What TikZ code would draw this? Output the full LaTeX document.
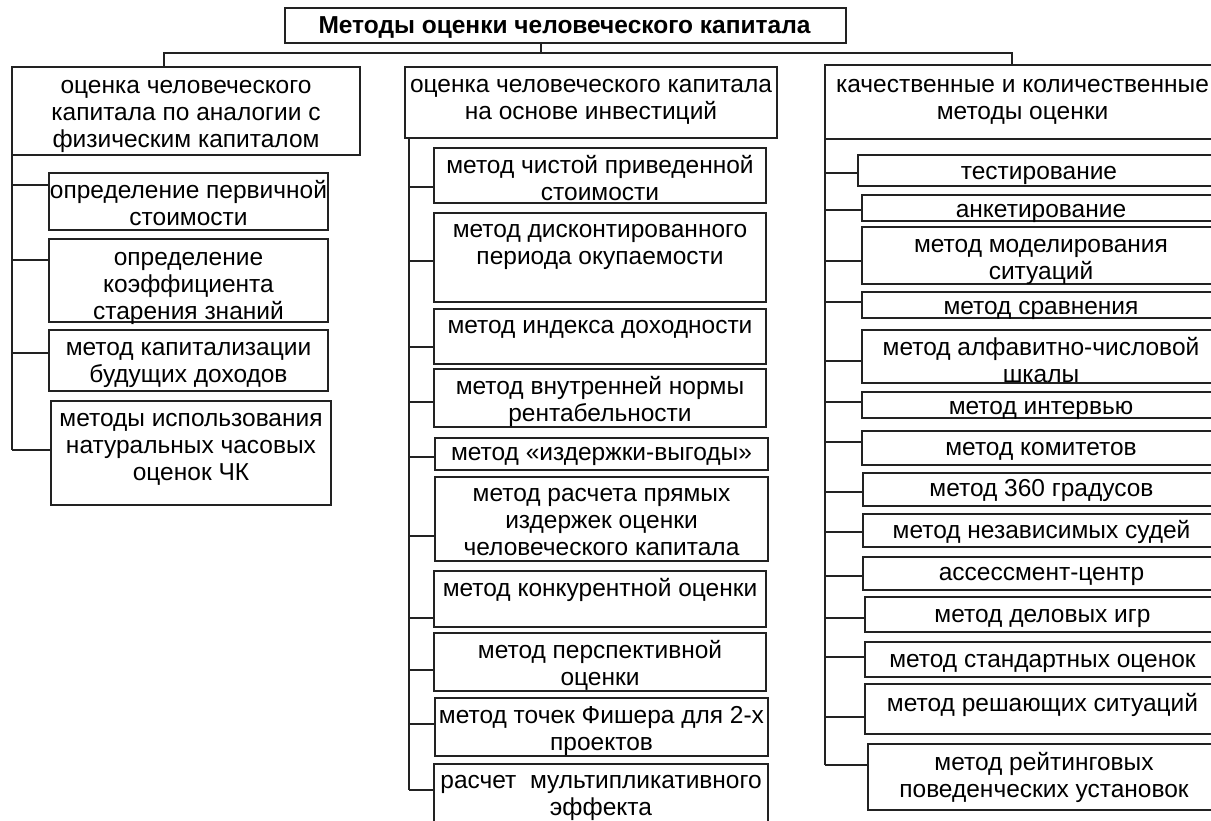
\documentclass[tikz,border=0pt]{standalone}
\usepackage{fontspec}
\setmainfont{Liberation Sans}
\definecolor{ln}{HTML}{222222}
\tikzset{
  boxst/.style={draw=ln, line width=1.5pt, inner sep=0pt, outer sep=0pt, font=\fontsize{24.5}{27}\selectfont},
  conn/.style={draw=ln, line width=1.5pt}
}
% name, x1, y1, x2, y2, vertical alignment (c/t), top pad (pt), text
\newcommand\bx[8]{\node[boxst, anchor=north west] (#1) at (#2,#3)
  {\parbox[c][\dimexpr #5pt-#3pt\relax][#6]{\dimexpr #4pt-#2pt\relax}{\vspace*{#7pt}\centering #8\par}};}
\newcommand\wl[1]{\makebox[\linewidth][c]{#1}}
\begin{document}
\begin{tikzpicture}[x=1pt,y=-1pt]
\useasboundingbox (0,0) rectangle (1211,821);
\fill[white] (0,0) rectangle (1211,821);
% title
\node[boxst, anchor=north west, font=\fontsize{24.5}{27}\selectfont\bfseries] (T) at (285,8)
  {\parbox[c][35pt][c]{561pt}{\vspace*{4pt}\centering\hspace*{-2pt}Методы оценки человеческого капитала\par}};
% headers
\bx{HA}{12}{67}{360}{155}{c}{10}{оценка человеческого\\капитала по аналогии с\\физическим капиталом}
\bx{HB}{405}{67}{777}{138}{t}{12}{\wl{оценка человеческого капитала}\\на основе инвестиций}
\bx{HC}{825}{65}{1220}{139}{t}{14}{\wl{качественные и количественные}\\методы оценки}
% column A
\bx{A1}{49}{173}{328}{230}{c}{4}{\wl{определение первичной}\\стоимости}
\bx{A2}{49}{239}{328}{322}{c}{16}{определение\\коэффициента\\старения знаний}
\bx{A3}{49}{330}{328}{391}{c}{8}{метод капитализации\\будущих доходов}
\bx{A4}{51}{401}{331}{505}{t}{12}{методы использования\\натуральных часовых\\оценок ЧК}
% column B
\bx{B1}{434}{148}{766}{203}{c}{6}{метод чистой приведенной\\стоимости}
\bx{B2}{434}{213}{766}{302}{t}{11}{метод дисконтированного\\периода окупаемости}
\bx{B3}{434}{309}{766}{364}{t}{11}{метод индекса доходности}
\bx{B4}{434}{369}{766}{427}{c}{7}{метод внутренней нормы\\рентабельности}
\bx{B5}{435}{438}{768}{470}{c}{4}{метод «издержки-выгоды»}
\bx{B6}{435}{477}{768}{561}{c}{6}{метод расчета прямых\\издержек оценки\\человеческого капитала}
\bx{B7}{434}{571}{766}{627}{t}{7}{\wl{метод конкурентной оценки}}
\bx{B8}{434}{633}{766}{691}{c}{6}{метод перспективной\\оценки}
\bx{B9}{435}{698}{768}{756}{c}{8}{\wl{метод точек Фишера для 2-х}\\проектов}
\bx{B10}{434}{764}{768}{830}{t}{11}{\wl{расчет\ \ мультипликативного}\\эффекта}
% column C
\bx{C1}{858}{155}{1220}{186}{c}{10}{тестирование}
\bx{C2}{862}{195}{1220}{221}{c}{10}{анкетирование}
\bx{C3}{862}{227}{1220}{284}{c}{12}{метод моделирования\\ситуаций}
\bx{C4}{862}{292}{1220}{318}{c}{10}{метод сравнения}
\bx{C5}{862}{330}{1220}{383}{c}{8}{метод алфавитно-числовой\\шкалы}
\bx{C6}{862}{392}{1220}{418}{c}{10}{метод интервью}
\bx{C7}{862}{431}{1220}{465}{c}{6}{метод комитетов}
\bx{C8}{863}{473}{1220}{506}{c}{2}{метод 360 градусов}
\bx{C9}{863}{514}{1220}{547}{c}{2}{метод независимых судей}
\bx{C10}{863}{557}{1220}{590}{c}{6}{ассессмент-центр}
\bx{C11}{865}{597}{1220}{632}{c}{8}{метод деловых игр}
\bx{C12}{865}{642}{1220}{677}{c}{8}{метод стандартных оценок}
\bx{C13}{865}{684}{1220}{734}{t}{9}{метод решающих ситуаций}
\bx{C14}{868}{744}{1220}{810}{c}{0}{метод рейтинговых\\поведенческих установок}
% top connectors
\coordinate (TD) at (541,53);
\draw[conn] (T.south -| TD) -- (TD);
\draw[conn] (HA.north -| 164,0) |- (TD) -| (HC.north -| 1012,0);
% column A connectors
\draw[conn] (HA.south west) -- (12,450);
\foreach \n/\y in {A1/185, A2/260, A3/353, A4/450}
  \draw[conn] (12,\y) -- (\n.west |- 0,\y);
% column B connectors
\draw[conn] (HB.south -| 409,0) -- (409,790);
\foreach \n/\y in {B1/187, B2/261, B3/347, B4/402, B5/457, B6/536, B7/618, B8/670, B9/724, B10/790}
  \draw[conn] (409,\y) -- (\n.west |- 0,\y);
% column C connectors
\draw[conn] (HC.south west) -- (825,765);
\foreach \n/\y in {C1/173, C2/210, C3/261, C4/302, C5/361, C6/402, C7/442, C8/492, C9/532, C10/576, C11/618, C12/657, C13/717, C14/765}
  \draw[conn] (825,\y) -- (\n.west |- 0,\y);
\end{tikzpicture}
\end{document}
